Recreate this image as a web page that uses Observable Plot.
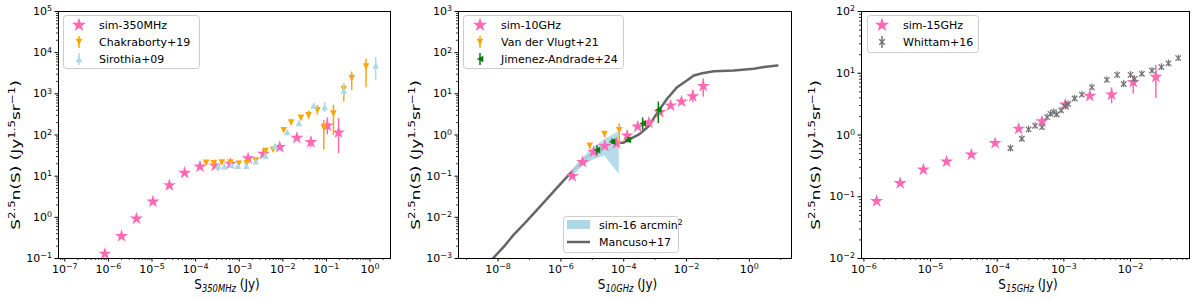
<!DOCTYPE html>
<html><head><meta charset="utf-8">
<script src="https://cdn.jsdelivr.net/npm/d3@7"></script>
<script src="https://cdn.jsdelivr.net/npm/@observablehq/plot@0.6"></script>
<style>
body{margin:0;background:#fff;}
#wrap{display:flex;width:1200px;height:300px;}
#wrap > div{width:400px;height:300px;}
svg text{font-family:"DejaVu Sans";}
</style></head><body><div id="wrap"><div id="p1"></div><div id="p2"></div><div id="p3"></div></div>
<script>
// ---------------- Panel 1: 350 MHz ----------------
const sim350X  = [8.3e-7,2.0e-6,4.4e-6,1.05e-5,2.5e-5,5.6e-5,1.26e-4,2.8e-4,6.3e-4,1.6e-3,3.6e-3,8.5e-3,2.1e-2,4.4e-2,0.105,0.19];
const sim350Y  = [0.13,0.35,0.93,2.4,6.0,12,17,18,20,27,35,51,85,67,170,115];
const sim350Lo = [0.12,0.32,0.86,2.2,5.6,11,16,16.5,18,23,30,44,75,50,100,35];
const sim350Hi = [0.14,0.38,1.0,2.6,6.4,13,18,19.5,22,32,41,58,96,90,260,250];

const chakX  = [1.74e-4,2.6e-4,4.0e-4,6.3e-4,9.8e-4,1.5e-3,2.4e-3,4.0e-3,6.0e-3,1.05e-2,1.55e-2,2.6e-2,3.9e-2,6.2e-2,8.7e-2,0.145,0.25,0.38,0.81];
const chakY  = [21,20.6,21.5,21.5,20,20.5,24,41,44,130,200,260,300,400,150,330,1300,2400,4600];
const chakLo = [19.5,19,20,20,18.5,19,22,38,40,120,180,230,240,300,43,98,630,1200,1400];
const chakHi = [22.5,22,23,23,21.5,22,26,44,48,140,220,290,380,520,225,530,1700,3400,7000];

const siroX  = [3.3e-4,4.6e-4,6.6e-4,9.3e-4,1.45e-3,2.4e-3,4.0e-3,6.6e-3,1.26e-2,2.35e-2,5.1e-2,9.1e-2,0.25,1.35];
const siroY  = [18,17.5,19,18,18,23,32,54,118,195,520,480,1200,4900];
const siroLo = [17,16.5,18,17,17,21.5,30,50,110,180,470,350,850,2100];
const siroHi = [19,18.5,20,19,19,24.5,34,58,126,210,570,620,1800,7700];

// ---------------- Panel 2: 10 GHz ----------------
const sim10X  = [2.3e-6,4.9e-6,1.1e-5,2.5e-5,5.9e-5,1.29e-4,2.8e-4,6.3e-4,1.41e-3,3.1e-3,6.9e-3,1.58e-2,3.4e-2];
const sim10Y  = [0.10,0.22,0.39,0.54,0.63,0.97,1.6,2.0,3.6,5.2,6.5,8.7,15.5];
const sim10Lo = [0.09,0.2,0.36,0.5,0.58,0.9,1.45,1.8,3.1,4.6,5.5,6.2,8.3];
const sim10Hi = [0.11,0.24,0.42,0.58,0.68,1.05,1.75,2.2,4.1,5.8,7.5,12,23];

const vlugtX  = [8.3e-6,2.45e-5,7.2e-5];
const vlugtY  = [0.55,1.05,1.3];
const vlugtLo = [0.45,0.85,0.56];
const vlugtHi = [0.62,1.2,1.85];

const jimX  = [1.41e-5,4.27e-5,1.35e-4,4.0e-4,1.26e-3];
const jimY  = [0.43,0.69,0.76,1.9,4.1];
const jimLo = [0.32,0.6,0.65,1.3,1.9];
const jimHi = [0.55,0.8,0.88,2.6,6.3];

const bandX  = [2.3e-6,4.9e-6,1.1e-5,2.5e-5,7.2e-5];
const bandLo = [0.095,0.17,0.25,0.31,0.11];
const bandHi = [0.14,0.27,0.50,0.78,1.2];

const mancusoX = [3.98e-9,7.24e-9,1.58e-8,3.16e-8,6.31e-8,1.35e-7,3.16e-7,6.31e-7,1.23e-6,2.51e-6,5.01e-6,1e-5,2.0e-5,3.55e-5,5.0e-5,1e-4,1.58e-4,3.16e-4,6.31e-4,1.26e-3,2.4e-3,5.0e-3,1.05e-2,1.7e-2,3.16e-2,7.4e-2,0.32,1.38,2.9,7.8];
const mancusoY = [6.3e-4,1.05e-3,2.0e-3,3.8e-3,6.6e-3,1.23e-2,2.5e-2,4.5e-2,7.9e-2,0.141,0.24,0.37,0.50,0.60,0.65,0.65,0.79,1.05,1.66,3.8,7.6,14.5,21.4,28,31.6,35.5,37,40.7,44.7,49];

// ---------------- Panel 3: 15 GHz ----------------
const sim15X  = [1.55e-6,3.5e-6,7.8e-6,1.74e-5,4.1e-5,9.3e-5,2.1e-4,4.7e-4,1.05e-3,2.45e-3,5.2e-3,1.1e-2,2.4e-2];
const sim15Y  = [0.085,0.166,0.275,0.37,0.48,0.74,1.26,1.66,3.1,4.3,4.5,7.2,8.7];
const sim15Lo = [0.08,0.155,0.26,0.35,0.45,0.7,1.18,1.55,2.8,3.9,3.2,4.6,3.9];
const sim15Hi = [0.09,0.177,0.29,0.39,0.51,0.78,1.34,1.8,3.4,4.8,5.8,9.1,13.4];

const whitX  = [1.58e-4,2.34e-4,2.95e-4,3.7e-4,4.7e-4,5.6e-4,6.3e-4,7.1e-4,7.8e-4,9.1e-4,1.05e-3,1.15e-3,1.45e-3,1.86e-3,2.63e-3,4.4e-3,6.3e-3,7.9e-3,1.0e-2,1.15e-2,1.48e-2,2.1e-2,2.9e-2,3.7e-2,5.2e-2];
const whitY  = [0.61,0.87,1.23,1.41,1.34,1.95,2.2,2.35,2.15,2.5,2.9,3.2,3.9,4.5,5.9,7.8,9.4,6.7,9.4,8.1,9.8,11,12.6,14.5,17.6];
const whitLo = [0.53,0.76,1.08,1.24,1.18,1.72,1.95,2.08,1.9,2.2,2.55,2.8,3.45,4.0,5.2,6.9,8.2,5.9,8.2,7.1,8.6,9.7,11.1,12.8,15.5];
const whitHi = [0.69,0.99,1.4,1.6,1.52,2.2,2.5,2.65,2.42,2.82,3.28,3.6,4.4,5.1,6.7,8.8,10.6,7.6,10.7,9.1,11.1,12.4,14.2,16.4,19.8];

// ---------------- Ticks ----------------
const x1Ticks = [1e-7,1e-6,1e-5,1e-4,1e-3,1e-2,1e-1,1];
const y1Ticks = [1e-1,1,1e1,1e2,1e3,1e4,1e5];
const x2Ticks = [1e-8,1e-6,1e-4,1e-2,1];
const x2Minor = [1e-9,1e-7,1e-5,1e-3,1e-1,10];
const y2Ticks = [1e-3,1e-2,1e-1,1,1e1,1e2,1e3];
const x3Ticks = [1e-6,1e-5,1e-4,1e-3,1e-2];
const y3Ticks = [1e-2,1e-1,1,1e1,1e2];

const PINK = "#ff69b4", ORANGE = "#ffa500", LBLUE = "#add8e6", GREEN = "#0a7a0a", GRAY = "#666666", XGRAY = "#707070";

// ---------------- helpers ----------------
const rows = (xs, ys, lo, hi) => xs.map((x, i) => ({x, y: ys[i], lo: lo ? lo[i] : null, hi: hi ? hi[i] : null}));
function minorLog([d0, d1]) {
  const out = [];
  for (let e = Math.floor(Math.log10(d0)); e <= Math.ceil(Math.log10(d1)); e++)
    for (let m = 2; m <= 9; m++) { const v = m * Math.pow(10, e); if (v >= d0 && v <= d1) out.push(v); }
  return out;
}
const rad = s => Math.sqrt(s / Math.PI);
const triDown = {draw(c, s){const r = rad(s); c.moveTo(0, r); c.lineTo(-r, -r); c.lineTo(r, -r); c.closePath();}};
const triUp   = {draw(c, s){const r = rad(s); c.moveTo(0, -r); c.lineTo(-r, r); c.lineTo(r, r); c.closePath();}};
const triLeft = {draw(c, s){const r = rad(s); c.moveTo(-r, 0); c.lineTo(r, -r); c.lineTo(r, r); c.closePath();}};

const fmt = d => "10^" + Math.round(Math.log10(d));

function errMarks(data, color, sw) {
  return Plot.ruleX(data, {x: "x", y1: "lo", y2: "hi", stroke: color, strokeWidth: sw || 1.5, clip: true});
}

function mathText(parent, x, y, parts, size, transform) {
  const t = parent.append("text").attr("font-size", size).attr("fill", "black").attr("text-anchor", "middle")
    .attr("transform", `translate(${x},${y})` + (transform || ""));
  let shift = 0;
  for (const [str, kind] of parts) {
    const ts = t.append("tspan").text(str);
    let target = 0;
    if (kind === "sup") { target = -0.42 * size; ts.attr("font-size", size * 0.7); }
    if (kind === "sub") { target = 0.22 * size; ts.attr("font-size", size * 0.7).attr("font-style", "italic"); }
    if (target !== shift) { ts.attr("dy", target - shift); shift = target; }
  }
  return t;
}

function legendBox(svg, x, y, w, h) {
  svg.append("rect").attr("x", x).attr("y", y).attr("width", w).attr("height", h).attr("rx", 3)
    .attr("fill", "white").attr("fill-opacity", 0.8).attr("stroke", "#cccccc").attr("stroke-width", 1);
}
function legendText(svg, x, y, label) {
  return svg.append("text").attr("x", x).attr("y", y).attr("font-size", 11).attr("fill", "black")
    .attr("text-anchor", "start").text(label);
}
function legendItem(svg, mx, tx, y, label, sym, color, opts = {}) {
  if (opts.bar) svg.append("line").attr("x1", mx).attr("x2", mx).attr("y1", y - 6).attr("y2", y + 6).attr("stroke", color).attr("stroke-width", 1.5);
  const p = svg.append("path").attr("transform", `translate(${mx},${y})`).attr("d", d3.symbol().type(sym).size(Math.PI * opts.r * opts.r)());
  if (opts.stroke) p.attr("fill", "none").attr("stroke", color).attr("stroke-width", 1.3);
  else p.attr("fill", color);
  legendText(svg, tx, y + 4, label);
}

function panel(el, cfg) {
  const chart = Plot.plot({
    width: 400, height: 300,
    marginLeft: cfg.ml, marginRight: cfg.mr, marginTop: 11, marginBottom: 42,
    style: {fontFamily: "DejaVu Sans", fontSize: "11px", background: "white", color: "black"},
    x: {type: "log", domain: cfg.xDomain},
    y: {type: "log", domain: cfg.yDomain},
    marks: [
      ...cfg.marks,
      Plot.frame({stroke: "black", strokeWidth: 1}),
      Plot.axisX(cfg.xMinor, {tickSize: 2, tickFormat: () => "", label: null, strokeWidth: 0.8}),
      Plot.axisY(cfg.yMinor, {tickSize: 2, tickFormat: () => "", label: null, strokeWidth: 0.8}),
      Plot.axisX(cfg.xTicks, {tickSize: 3.5, tickPadding: 3, tickFormat: fmt, label: null}),
      Plot.axisY(cfg.yTicks, {tickSize: 3.5, tickPadding: 3, tickFormat: fmt, label: null})
    ]
  });
  const svg = d3.select(chart);
  svg.selectAll("text").each(function() {
    const t = this.textContent;
    if (t === "") { this.remove(); return; }
    const m = /^10\^(-?\d+)$/.exec(t);
    if (m) {
      this.textContent = "10";
      d3.select(this).append("tspan").attr("dy", "-0.45em").attr("font-size", "0.72em").text(m[1].replace("-", "\u2212"));
    }
  });
  const fx = cfg.ml + (400 - cfg.ml - cfg.mr) / 2 + 3;
  mathText(svg, fx, 289, [["S", ""], [cfg.sub, "sub"], [" (Jy)", ""]], 12, " scale(1,1.15)");
  mathText(svg, 20, 155, [["S", ""], ["2.5", "sup"], ["n(S) (Jy", ""], ["1.5", "sup"], ["sr", ""], ["\u22121", "sup"], [")", ""]], 13, " rotate(-90) scale(1.3,1)");
  cfg.legend(svg);
  document.getElementById(el).appendChild(chart);
}

// ---------------- Panel 1 ----------------
{
  const sim = rows(sim350X, sim350Y, sim350Lo, sim350Hi);
  const chak = rows(chakX, chakY, chakLo, chakHi);
  const siro = rows(siroX, siroY, siroLo, siroHi);
  const xDomain = [7.16e-8, 2.95], yDomain = [0.1, 1e5];
  panel("p1", {
    ml: 58, mr: 10, xDomain, yDomain, xTicks: x1Ticks, yTicks: y1Ticks,
    xMinor: minorLog(xDomain), yMinor: minorLog(yDomain), sub: "350MHz",
    marks: [
      errMarks(sim, PINK),
      Plot.dot(sim, {x: "x", y: "y", symbol: "star", r: 4.1, fill: PINK}),
      errMarks(chak, ORANGE),
      Plot.dot(chak, {x: "x", y: "y", symbol: triDown, r: 3.3, fill: ORANGE}),
      errMarks(siro, LBLUE),
      Plot.dot(siro, {x: "x", y: "y", symbol: triUp, r: 3.3, fill: LBLUE})
    ],
    legend: svg => {
      legendBox(svg, 63.5, 15.5, 136, 53);
      legendItem(svg, 79, 99, 25, "sim-350MHz", d3.symbolStar, PINK, {r: 4.5});
      legendItem(svg, 79, 99, 42, "Chakraborty+19", triDown, ORANGE, {r: 3.3, bar: true});
      legendItem(svg, 79, 99, 59, "Sirothia+09", triUp, LBLUE, {r: 3.3, bar: true});
    }
  });
}

// ---------------- Panel 2 ----------------
{
  const sim = rows(sim10X, sim10Y, sim10Lo, sim10Hi);
  const vl = rows(vlugtX, vlugtY, vlugtLo, vlugtHi);
  const jim = rows(jimX, jimY, jimLo, jimHi);
  const band = rows(bandX, bandLo, bandLo, bandHi);
  const manc = rows(mancusoX, mancusoY);
  const xDomain = [5.5e-10, 21.9], yDomain = [1e-3, 1e3];
  panel("p2", {
    ml: 58, mr: 9, xDomain, yDomain, xTicks: x2Ticks, yTicks: y2Ticks,
    xMinor: x2Minor, yMinor: minorLog(yDomain), sub: "10GHz",
    marks: [
      Plot.line(manc, {x: "x", y: "y", stroke: GRAY, strokeWidth: 2.5, clip: true}),
      Plot.areaY(band, {x: "x", y1: "lo", y2: "hi", fill: LBLUE, fillOpacity: 0.9}),
      errMarks(sim, PINK),
      Plot.dot(sim, {x: "x", y: "y", symbol: "star", r: 4.1, fill: PINK}),
      errMarks(vl, ORANGE),
      Plot.dot(vl, {x: "x", y: "y", symbol: triDown, r: 3.3, fill: ORANGE}),
      errMarks(jim, GREEN),
      Plot.dot(jim, {x: "x", y: "y", symbol: triLeft, r: 3.3, fill: GREEN})
    ],
    legend: svg => {
      legendBox(svg, 63.5, 15.5, 160, 53);
      legendItem(svg, 80, 101, 25, "sim-10GHz", d3.symbolStar, PINK, {r: 4.5});
      legendItem(svg, 80, 101, 42, "Van der Vlugt+21", triDown, ORANGE, {r: 3.3, bar: true});
      legendItem(svg, 80, 101, 59, "Jimenez-Andrade+24", triLeft, GREEN, {r: 3.3, bar: true});
      legendBox(svg, 163.5, 216.5, 115, 36);
      svg.append("rect").attr("x", 167).attr("y", 220).attr("width", 23).attr("height", 9).attr("fill", LBLUE);
      const t = legendText(svg, 199, 229, "sim-16 arcmin");
      t.append("tspan").attr("dy", -4.5).attr("font-size", 7.7).text("2");
      svg.append("line").attr("x1", 167).attr("x2", 190).attr("y1", 242).attr("y2", 242).attr("stroke", GRAY).attr("stroke-width", 2.5);
      legendText(svg, 199, 246, "Mancuso+17");
    }
  });
}

// ---------------- Panel 3 ----------------
{
  const sim = rows(sim15X, sim15Y, sim15Lo, sim15Hi);
  const wh = rows(whitX, whitY, whitLo, whitHi);
  const xDomain = [9.2e-7, 7.67e-2], yDomain = [1e-2, 1e2];
  panel("p3", {
    ml: 61, mr: 11, xDomain, yDomain, xTicks: x3Ticks, yTicks: y3Ticks,
    xMinor: minorLog(xDomain), yMinor: minorLog(yDomain), sub: "15GHz",
    marks: [
      errMarks(sim, PINK),
      Plot.dot(sim, {x: "x", y: "y", symbol: "star", r: 4.1, fill: PINK}),
      errMarks(wh, XGRAY, 1.1),
      Plot.dot(wh, {x: "x", y: "y", symbol: "times", r: 2.6, stroke: XGRAY, strokeWidth: 1.2, fill: "none"})
    ],
    legend: svg => {
      legendBox(svg, 67.5, 15.5, 111, 37);
      legendItem(svg, 82, 103, 25, "sim-15GHz", d3.symbolStar, PINK, {r: 4.5});
      legendItem(svg, 82, 103, 42, "Whittam+16", d3.symbolTimes, XGRAY, {r: 2.6, bar: true, stroke: true});
    }
  });
}
</script></body></html>
